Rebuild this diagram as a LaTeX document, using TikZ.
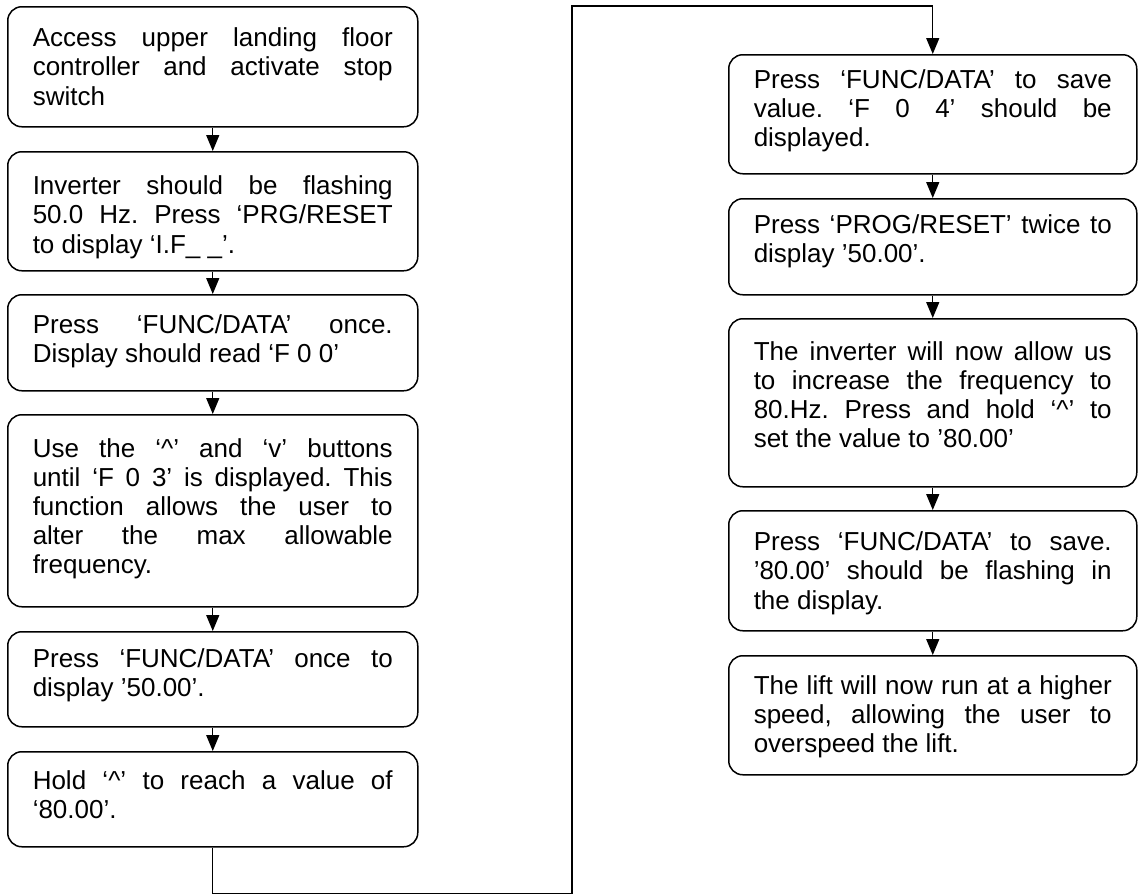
\documentclass[tikz,border=0pt]{standalone}
\usepackage{fontspec}
\setmainfont{Liberation Sans}
\usetikzlibrary{arrows.meta}
\newcommand\JL[1]{\hbox to\hsize{\strut #1}}
\newcommand\LL[1]{\hbox{\strut #1}}
\newcommand\bxc[4]{\parbox[c][#2][t]{#1}{\fontsize{26}{29.2}\selectfont\frenchspacing\vspace*{#3}#4}}
\tikzset{
  stepbox/.style={draw=black, line width=1.5pt, rounded corners=14pt, anchor=north west,
    inner xsep=25pt, inner ysep=0pt, fill=white},
  arr/.style={draw=black, line width=1.4pt, sharp corners, -{Triangle[length=16pt,width=13pt]}}
}
\begin{document}
\begin{tikzpicture}[x=1pt,y=-1pt]
\useasboundingbox[fill=white] (0,0) rectangle (1138,895);
% left column
\node[stepbox] (b1) at (7,6) {\bxc{360pt}{120pt}{19.5pt}{%
  \JL{Access upper landing floor}\JL{controller and activate stop}\LL{switch}}};
\node[stepbox] (b2) at (7,151) {\bxc{360pt}{119pt}{22.5pt}{%
  \JL{Inverter should be flashing}\JL{50.0 Hz. Press ‘PRG/RESET}\LL{to display ‘I.F\_ \_’.}}};
\node[stepbox] (b3) at (7,294) {\bxc{360pt}{96pt}{18.5pt}{%
  \JL{Press ‘FUNC/DATA’ once.}\LL{Display should read ‘F 0 0’}}};
\node[stepbox] (b4) at (7,414) {\bxc{360pt}{192pt}{22pt}{%
  \JL{Use the ‘\textasciicircum’ and ‘v’ buttons}\JL{until ‘F 0 3’ is displayed. This}%
  \JL{function allows the user to}\JL{alter the max allowable}\LL{frequency.}}};
\node[stepbox] (b5) at (7,631) {\bxc{360pt}{95pt}{15.5pt}{%
  \JL{Press ‘FUNC/DATA’ once to}\LL{display ’50.00’.}}};
\node[stepbox] (b6) at (7,751) {\bxc{360pt}{95pt}{17.5pt}{%
  \JL{Hold ‘\textasciicircum’ to reach a value of}\LL{‘80.00’.}}};
% right column
\node[stepbox] (r1) at (728,54) {\bxc{358pt}{119pt}{13pt}{%
  \JL{Press ‘FUNC/DATA’ to save}\JL{value. ‘F 0 4’ should be}\LL{displayed.}}};
\node[stepbox] (r2) at (728,198) {\bxc{358pt}{96pt}{14.5pt}{%
  \JL{Press ‘PROG/RESET’ twice to}\LL{display ’50.00’.}}};
\node[stepbox] (r3) at (728,318) {\bxc{358pt}{168pt}{21pt}{%
  \JL{The inverter will now allow us}\JL{to increase the frequency to}%
  \JL{80.Hz. Press and hold ‘\textasciicircum’ to}\LL{set the value to ’80.00’}}};
\node[stepbox] (r4) at (728,510) {\bxc{358pt}{120pt}{19.5pt}{%
  \JL{Press ‘FUNC/DATA’ to save.}\JL{’80.00’ should be flashing in}\LL{the display.}}};
\node[stepbox] (r5) at (728,655) {\bxc{358pt}{119pt}{18pt}{%
  \JL{The lift will now run at a higher}\JL{speed, allowing the user to}\LL{overspeed the lift.}}};
% connectors
\draw[arr] (b1.south) -- (b2.north);
\draw[arr] (b2.south) -- (b3.north);
\draw[arr] (b3.south) -- (b4.north);
\draw[arr] (b4.south) -- (b5.north);
\draw[arr] (b5.south) -- (b6.north);
\draw[arr] (r1.south) -- (r2.north);
\draw[arr] (r2.south) -- (r3.north);
\draw[arr] (r3.south) -- (r4.north);
\draw[arr] (r4.south) -- (r5.north);
\coordinate (c1) at (572,893.5);
\coordinate (c2) at (572,6);
\draw[arr] (b6.south) |- (c1) -- (c2) -| (r1.north);
\end{tikzpicture}
\end{document}
